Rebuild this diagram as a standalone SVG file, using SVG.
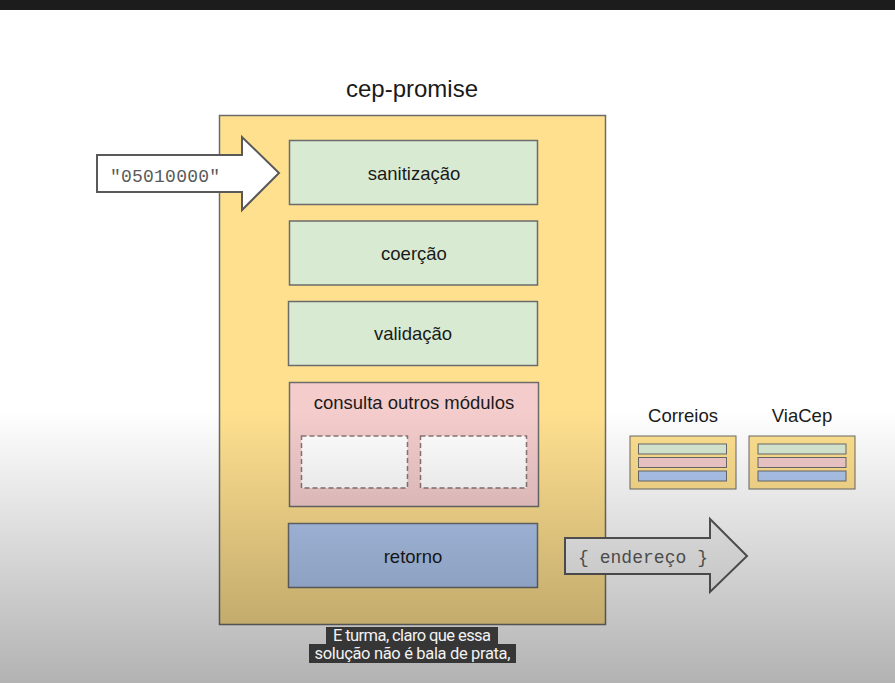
<svg xmlns="http://www.w3.org/2000/svg" width="895" height="683" viewBox="0 0 895 683">
<defs>
<style>
.lbl{font-family:"Liberation Sans",Arial,sans-serif;font-size:18.5px;fill:#1a1a1a;text-anchor:middle}
.mono{font-family:"Liberation Mono","Courier New",monospace;font-size:18px;fill:#5a5a5a}
.box{stroke:#6b6b6b;stroke-width:1.5}
.g{fill:#d9ead3}.p{fill:#f4cccc}.b{fill:#b0c8f0}.y{fill:#ffe08f}
.sub{font-family:Roboto,"Noto Sans",sans-serif;font-size:16.5px;fill:#f2f2f2;text-anchor:middle}
</style>
<linearGradient id="shade" gradientUnits="userSpaceOnUse" x1="0" y1="410" x2="0" y2="683">
<stop offset="0" stop-color="#000" stop-opacity="0"/>
<stop offset="1" stop-color="#000" stop-opacity="0.3"/>
</linearGradient>
</defs>
<rect width="895" height="683" fill="#ffffff"/>
<text class="lbl" x="412" y="97" style="font-size:24px">cep-promise</text>
<g id="cep-promise"><rect class="box y" x="219.5" y="115.5" width="386" height="509"/></g>
<g id="sanitizacao"><rect class="box g" x="289.5" y="140.5" width="248" height="64"/><text class="lbl" x="414" y="180">sanitização</text></g>
<g id="coercao"><rect class="box g" x="289.5" y="221" width="248" height="64"/><text class="lbl" x="414" y="260">coerção</text></g>
<g id="validacao"><rect class="box g" x="288.5" y="301.5" width="249" height="64"/><text class="lbl" x="413" y="340">validação</text></g>
<g id="consulta"><rect class="box p" x="289.5" y="382.5" width="249" height="124"/><text class="lbl" x="414" y="409">consulta outros módulos</text>
<rect x="301.5" y="436" width="106" height="52" fill="#ffffff" stroke="#8a7373" stroke-width="1.5" stroke-dasharray="5,3"/>
<rect x="420.5" y="436" width="106" height="52" fill="#ffffff" stroke="#8a7373" stroke-width="1.5" stroke-dasharray="5,3"/></g>
<g id="retorno"><rect class="box b" x="288.5" y="523.5" width="249" height="64"/><text class="lbl" x="413" y="563">retorno</text></g>
<g id="correios"><text class="lbl" x="683" y="422">Correios</text>
<rect class="y" x="630" y="436" width="106" height="53" stroke="#6b6b6b" stroke-width="1"/>
<rect class="g" x="638.5" y="444" width="88" height="10" stroke="#6b6b6b" stroke-width="1"/>
<rect class="p" x="638.5" y="457.5" width="88" height="10" stroke="#6b6b6b" stroke-width="1"/>
<rect class="b" x="638.5" y="471" width="88" height="10" stroke="#6b6b6b" stroke-width="1"/></g>
<g id="viacep"><text class="lbl" x="802" y="422">ViaCep</text>
<rect class="y" x="749" y="436" width="106" height="53" stroke="#6b6b6b" stroke-width="1"/>
<rect class="g" x="758" y="444" width="88" height="10" stroke="#6b6b6b" stroke-width="1"/>
<rect class="p" x="758" y="457.5" width="88" height="10" stroke="#6b6b6b" stroke-width="1"/>
<rect class="b" x="758" y="471" width="88" height="10" stroke="#6b6b6b" stroke-width="1"/></g>
<g id="connectors">
<polygon points="97,155 242,155 242,137 279,173 242,210 242,192 97,192" fill="#ffffff" stroke="#595959" stroke-width="2" stroke-linejoin="miter"/>
<text class="mono" x="110" y="182" textLength="110">"05010000"</text>
<polygon points="565,538 710,538 710,519 747,556 710,592 710,574 565,574" fill="#f6f6f6" stroke="#595959" stroke-width="2"/>
<text class="mono" x="578" y="563" textLength="130">{ endereço }</text>
</g>
<rect width="895" height="683" fill="url(#shade)"/>
<rect x="0" y="0" width="895" height="10" fill="#1c1c1c"/>
<g id="subtitles">
<rect x="326" y="627" width="172" height="17" fill="#1e1e1e" fill-opacity="0.85"/>
<rect x="309" y="644" width="207" height="19" fill="#1e1e1e" fill-opacity="0.85"/>
<text class="sub" x="412" y="641" textLength="158">E turma, claro que essa</text>
<text class="sub" x="412.5" y="659" textLength="196">solução não é bala de prata,</text>
</g>
</svg>
